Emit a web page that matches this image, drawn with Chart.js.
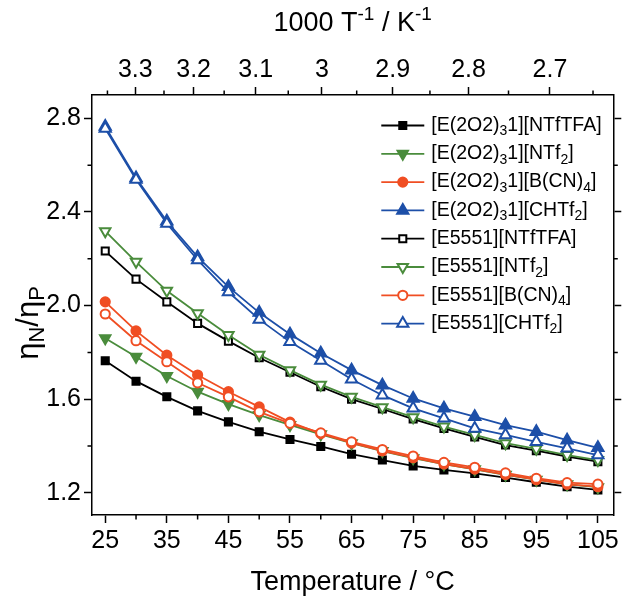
<!DOCTYPE html>
<html><head><meta charset="utf-8">
<script src="https://cdn.jsdelivr.net/npm/chart.js@4.4.1/dist/chart.umd.min.js"></script>
<style>html,body{margin:0;padding:0;background:#fff;}#wrap{width:622px;height:599px;}</style>
</head><body><div id="wrap"><canvas id="c" width="622" height="599"></canvas></div>
<script>
// ---- data ----
const temperatures = [25, 30, 35, 40, 45, 50, 55, 60, 65, 70, 75, 80, 85, 90, 95, 100, 105];
const e2o2_NTfTFA = [1.764, 1.677, 1.610, 1.550, 1.503, 1.461, 1.428, 1.398, 1.365, 1.340, 1.315, 1.298, 1.283, 1.265, 1.245, 1.226, 1.212];
const e2o2_NTf2   = [1.860, 1.781, 1.699, 1.632, 1.579, 1.532, 1.490, 1.450, 1.412, 1.378, 1.348, 1.322, 1.300, 1.277, 1.256, 1.236, 1.224];
const e2o2_BCN4   = [2.016, 1.892, 1.788, 1.703, 1.632, 1.567, 1.502, 1.453, 1.413, 1.379, 1.350, 1.323, 1.301, 1.278, 1.256, 1.236, 1.226];
const e2o2_CHTf2  = [2.765, 2.545, 2.360, 2.208, 2.080, 1.970, 1.878, 1.796, 1.724, 1.660, 1.603, 1.561, 1.525, 1.489, 1.461, 1.425, 1.392];
const e5551_NTfTFA = [2.233, 2.113, 2.016, 1.924, 1.848, 1.777, 1.715, 1.653, 1.600, 1.558, 1.515, 1.475, 1.439, 1.404, 1.380, 1.355, 1.333];
const e5551_NTf2   = [2.318, 2.187, 2.063, 1.967, 1.874, 1.790, 1.724, 1.662, 1.610, 1.566, 1.523, 1.483, 1.447, 1.412, 1.388, 1.361, 1.340];
const e5551_BCN4   = [1.964, 1.850, 1.760, 1.670, 1.610, 1.546, 1.497, 1.456, 1.418, 1.385, 1.357, 1.330, 1.309, 1.285, 1.262, 1.243, 1.237];
const e5551_CHTf2  = [2.757, 2.539, 2.351, 2.195, 2.058, 1.941, 1.845, 1.765, 1.685, 1.617, 1.561, 1.518, 1.475, 1.447, 1.418, 1.390, 1.361];
const seriesNames = ['[E(2O2)₃1][NTfTFA]', '[E(2O2)₃1][NTf₂]', '[E(2O2)₃1][B(CN)₄]', '[E(2O2)₃1][CHTf₂]',
                     '[E5551][NTfTFA]', '[E5551][NTf₂]', '[E5551][B(CN)₄]', '[E5551][CHTf₂]'];
const xMajorTicks = [25, 35, 45, 55, 65, 75, 85, 95, 105];
const xMinorTicks = [30, 40, 50, 60, 70, 80, 90, 100];
const yMajorTicks = [1.2, 1.6, 2.0, 2.4, 2.8];
const yMinorTicks = [1.4, 1.8, 2.2, 2.6];
const topMajorTicks = [3.3, 3.2, 3.1, 3.0, 2.9, 2.8, 2.7];
const topTickLabels = ['3.3', '3.2', '3.1', '3', '2.9', '2.8', '2.7'];
const topMinorTicks = [3.35, 3.25, 3.15, 3.05, 2.95, 2.85, 2.75, 2.65];
const xTitle = 'Temperature / °C';
const topTitle = [['1000 T', 'n'], ['-1', 'sup'], [' / K', 'n'], ['-1', 'sup']];
const yTitle = [['η', 'n'], ['N', 'sub'], ['/', 'n'], ['η', 'n'], ['P', 'sub']];

// ---- styling ----
const X_MIN = 22.85, X_MAX = 107.5, Y_MIN = 1.105, Y_MAX = 2.9;
const FONT = "'Liberation Sans', Arial, Helvetica, sans-serif";
const BLACK = '#000000', GREEN = '#4a8c3c', RED = '#f04e23', BLUE = '#1d4fa8';
const allSeries = [e2o2_NTfTFA, e2o2_NTf2, e2o2_BCN4, e2o2_CHTf2, e5551_NTfTFA, e5551_NTf2, e5551_BCN4, e5551_CHTf2];
const looks = [
  {c: BLACK, s: 'rect', rot: 0, fill: true, r: 5},
  {c: GREEN, s: 'triangle', rot: 180, fill: true, r: 6},
  {c: RED, s: 'circle', rot: 0, fill: true, r: 4.6},
  {c: BLUE, s: 'triangle', rot: 0, fill: true, r: 6.5},
  {c: BLACK, s: 'rect', rot: 0, fill: false, r: 5},
  {c: GREEN, s: 'triangle', rot: 180, fill: false, r: 6},
  {c: RED, s: 'circle', rot: 0, fill: false, r: 4.6},
  {c: BLUE, s: 'triangle', rot: 0, fill: false, r: 6.5}
];

Chart.defaults.font.family = FONT;
Chart.defaults.color = '#000';

const datasets = allSeries.map((vals, i) => {
  const L = looks[i];
  return {
    label: seriesNames[i],
    data: temperatures.map((t, k) => ({x: t, y: vals[k]})),
    borderColor: L.c, borderWidth: 1.8,
    pointStyle: L.s, pointRotation: L.rot, pointRadius: L.r,
    pointBackgroundColor: L.fill ? L.c : '#ffffff',
    pointBorderColor: L.c, pointBorderWidth: 2,
    fill: false, tension: 0, order: 8 - i,
    xAxisID: 'x', yAxisID: 'y'
  };
});

function richSegments(str) {
  const subs = '₀₁₂₃₄₅₆₇₈₉';
  const segs = [];
  for (const ch of str) {
    const k = subs.indexOf(ch);
    const seg = k >= 0 ? [String(k), 'sub'] : [ch, 'n'];
    if (segs.length && segs[segs.length - 1][1] === seg[1]) segs[segs.length - 1][0] += seg[0];
    else segs.push(seg);
  }
  return segs;
}
function richWidth(ctx, segs, size) {
  let w = 0;
  for (const [t, m] of segs) {
    ctx.font = (m === 'n' ? size : Math.round(size * 0.7)) + 'px ' + FONT;
    w += ctx.measureText(t).width;
  }
  return w;
}
function drawRich(ctx, segs, x, y, size, align) {
  const w = richWidth(ctx, segs, size);
  let cx = align === 'center' ? x - w / 2 : x;
  ctx.textBaseline = 'middle';
  ctx.textAlign = 'left';
  for (const [t, m] of segs) {
    const fs = m === 'n' ? size : Math.round(size * 0.7);
    ctx.font = fs + 'px ' + FONT;
    const dy = m === 'sub' ? size * 0.3 : (m === 'sup' ? -size * 0.33 : 0);
    ctx.fillText(t, cx, y + dy);
    cx += ctx.measureText(t).width;
  }
}

const decor = {
  id: 'decor',
  afterDraw(chart) {
    const ctx = chart.ctx;
    const ca = chart.chartArea;
    const sx = chart.scales.x, sy = chart.scales.y;
    ctx.save();
    // minor ticks
    ctx.strokeStyle = '#000'; ctx.lineWidth = 1.5;
    const m = 4.5;
    ctx.beginPath();
    xMinorTicks.forEach(v => { const p = sx.getPixelForValue(v); ctx.moveTo(p, ca.bottom); ctx.lineTo(p, ca.bottom + m); });
    topMinorTicks.forEach(v => { const p = sx.getPixelForValue(1000 / v - 273.15); ctx.moveTo(p, ca.top); ctx.lineTo(p, ca.top - m); });
    yMinorTicks.forEach(v => { const p = sy.getPixelForValue(v); ctx.moveTo(ca.left, p); ctx.lineTo(ca.left - m, p); ctx.moveTo(ca.right, p); ctx.lineTo(ca.right + m, p); });
    ctx.stroke();
    // titles
    ctx.fillStyle = '#000';
    drawRich(ctx, topTitle, (ca.left + ca.right) / 2, 24, 27, 'center');
    ctx.save();
    ctx.translate(29, (ca.top + ca.bottom) / 2 + 18);
    ctx.rotate(-Math.PI / 2);
    drawRich(ctx, yTitle, 0, 0, 31, 'center');
    ctx.restore();
    // legend
    const x0 = ca.right - 232, y0 = ca.top + 30.5, gap = 28.3;
    datasets.forEach((ds, i) => {
      const L = looks[i];
      const y = y0 + i * gap;
      ctx.strokeStyle = L.c; ctx.lineWidth = 1.8;
      ctx.beginPath(); ctx.moveTo(x0, y); ctx.lineTo(x0 + 43, y); ctx.stroke();
      ctx.fillStyle = L.fill ? L.c : '#ffffff';
      ctx.strokeStyle = L.c; ctx.lineWidth = 2;
      Chart.helpers.drawPoint(ctx, {pointStyle: L.s, rotation: L.rot, radius: L.r, borderWidth: 2}, x0 + 21.5, y);
      ctx.fillStyle = '#000';
      drawRich(ctx, richSegments(seriesNames[i]), x0 + 50, y, 19.5, 'left');
    });
    ctx.restore();
  }
};

const axisCommon = {
  grid: {drawOnChartArea: false, drawTicks: true, tickLength: 8, tickColor: '#000', tickWidth: 1.5},
  border: {display: true, color: '#000', width: 1.5}
};

new Chart(document.getElementById('c'), {
  type: 'line',
  data: {datasets},
  options: {
    responsive: false, animation: false, devicePixelRatio: 1,
    layout: {padding: 0},
    plugins: {legend: {display: false}, tooltip: {enabled: false}},
    scales: {
      x: Object.assign({}, axisCommon, {
        type: 'linear', position: 'bottom', min: X_MIN, max: X_MAX, display: true,
        afterBuildTicks: s => { s.ticks = xMajorTicks.map(v => ({value: v})); },
        afterFit: s => { s.height = 84; },
        ticks: {font: {size: 25}, padding: 3, maxRotation: 0, autoSkip: false, callback: v => String(v)},
        title: {display: true, text: xTitle, font: {size: 27}, padding: {top: 0, bottom: 0}}
      }),
      xTop: Object.assign({}, axisCommon, {
        type: 'linear', position: 'top', min: X_MIN, max: X_MAX, display: true,
        afterBuildTicks: s => { s.ticks = topMajorTicks.map(v => ({value: 1000 / v - 273.15})); },
        afterFit: s => { s.height = 95; },
        ticks: {font: {size: 25}, padding: 2, maxRotation: 0, autoSkip: false, callback: (v, i) => topTickLabels[i]}
      }),
      y: Object.assign({}, axisCommon, {
        type: 'linear', position: 'left', min: Y_MIN, max: Y_MAX, display: true,
        afterBuildTicks: s => { s.ticks = yMajorTicks.map(v => ({value: v})); },
        afterFit: s => { s.width = 92; },
        ticks: {font: {size: 25}, padding: 3, autoSkip: false, callback: v => v.toFixed(1)}
      }),
      yRight: Object.assign({}, axisCommon, {
        type: 'linear', position: 'right', min: Y_MIN, max: Y_MAX, display: true,
        afterBuildTicks: s => { s.ticks = yMajorTicks.map(v => ({value: v})); },
        afterFit: s => { s.width = 8; },
        ticks: {display: false}
      })
    }
  },
  plugins: [decor]
});
</script></body></html>
